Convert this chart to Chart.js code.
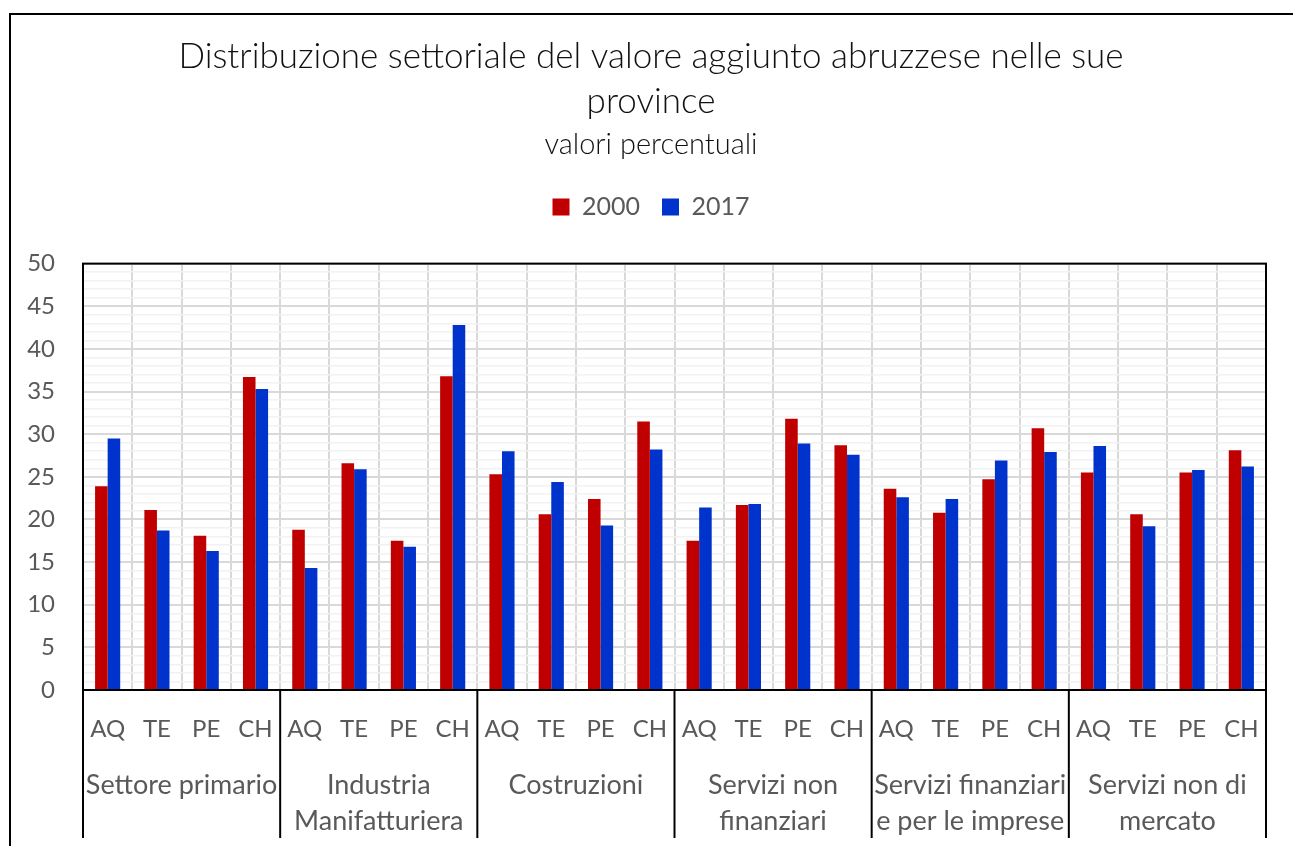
<!DOCTYPE html>
<html>
<head>
<meta charset="utf-8">
<script src="https://cdn.jsdelivr.net/npm/chart.js@4"></script>
<style>
  html, body { margin: 0; padding: 0; background: #fff; }
  #wrap { width: 1293px; height: 846px; }
</style>
</head>
<body>
<div id="wrap"><canvas id="sectorChart"></canvas></div>
<script>
const provinces = ['AQ', 'TE', 'PE', 'CH'];
const sectors = [
    ['Settore primario'],
    ['Industria', 'Manifatturiera'],
    ['Costruzioni'],
    ['Servizi non', 'finanziari'],
    ['Servizi finanziari', 'e per le imprese'],
    ['Servizi non di', 'mercato']
];
const values2000 = [23.9, 21.1, 18.1, 36.7, 18.8, 26.6, 17.5, 36.8, 25.3, 20.6, 22.4, 31.5,
                    17.5, 21.7, 31.8, 28.7, 23.6, 20.8, 24.7, 30.7, 25.5, 20.6, 25.5, 28.1];
const values2017 = [29.5, 18.7, 16.3, 35.3, 14.3, 25.9, 16.8, 42.8, 28.0, 24.4, 19.3, 28.2,
                    21.4, 21.8, 28.9, 27.6, 22.6, 22.4, 26.9, 27.9, 28.6, 19.2, 25.8, 26.2];

const labels = sectors.flatMap(() => provinces);
const FONT = 'Lato, "Open Sans", sans-serif';
const GREY = '#595959';

// cornice esterna + bordo area del grafico
const framePlugin = {
    id: 'frame',
    beforeDraw(chart) {
        const c = chart.ctx;
        c.save();
        c.strokeStyle = '#000';
        c.lineWidth = 2;
        c.beginPath();
        c.moveTo(10, chart.height);
        c.lineTo(10, 14);
        c.lineTo(chart.width, 14);
        c.stroke();
        c.restore();
    },
    afterDatasetsDraw(chart) {
        const a = chart.chartArea;
        const c = chart.ctx;
        c.save();
        c.strokeStyle = '#000';
        c.lineWidth = 2;
        c.strokeRect(a.left, a.top, a.right - a.left, a.bottom - a.top);
        c.restore();
    }
};

// separatori e nomi dei settori sotto l'asse
const groupPlugin = {
    id: 'groups',
    afterDraw(chart) {
        const x = chart.scales.x;
        const a = chart.chartArea;
        const c = chart.ctx;
        const n = provinces.length;
        c.save();
        c.strokeStyle = '#000';
        c.lineWidth = 2;
        c.fillStyle = GREY;
        c.font = '27px ' + FONT;
        c.textAlign = 'center';
        c.textBaseline = 'middle';
        sectors.forEach((name, g) => {
            const first = g * n, last = first + n - 1;
            const half = (x.getPixelForValue(1) - x.getPixelForValue(0)) / 2;
            const left = x.getPixelForValue(first) - half;
            const right = x.getPixelForValue(last) + half;
            c.beginPath();
            c.moveTo(left, a.bottom);
            c.lineTo(left, 838);
            if (g === sectors.length - 1) {
                c.moveTo(right, a.bottom);
                c.lineTo(right, 838);
            }
            c.stroke();
            name.forEach((line, i) => {
                c.fillText(line, (left + right) / 2, 785 + i * 36);
            });
        });
        c.restore();
    }
};

new Chart(document.getElementById('sectorChart'), {
    type: 'bar',
    data: {
        labels: labels,
        datasets: [
            { label: '2000', data: values2000, backgroundColor: '#C00000' },
            { label: '2017', data: values2017, backgroundColor: '#0033CC' }
        ]
    },
    options: {
        responsive: true,
        maintainAspectRatio: false,
        animation: false,
        categoryPercentage: 0.51,
        barPercentage: 1.0,
        layout: { padding: { top: 14, left: 9, right: 0, bottom: 0 } },
        plugins: {
            title: {
                display: true,
                text: ['Distribuzione settoriale del valore aggiunto abruzzese nelle sue', 'province'],
                color: '#111',
                font: { family: FONT, size: 35, weight: '300', lineHeight: 1.286 },
                padding: { top: 20, bottom: 0 }
            },
            subtitle: {
                display: true,
                text: 'valori percentuali',
                color: '#111',
                font: { family: FONT, size: 29, weight: '300', lineHeight: 1.4 },
                padding: { top: 0, bottom: 8 }
            },
            legend: {
                labels: {
                    color: GREY,
                    font: { family: FONT, size: 25 },
                    boxWidth: 17,
                    boxHeight: 17,
                    padding: 22
                }
            },
            tooltip: { enabled: false }
        },
        scales: {
            x: {
                grid: { color: '#d9d9d9', lineWidth: 2, drawTicks: false, offset: true },
                border: { color: '#000', width: 2 },
                ticks: { color: GREY, font: { family: FONT, size: 24 }, padding: 25, autoSkip: false, maxRotation: 0 },
                afterFit(s) { s.height = 156; }
            },
            y: {
                min: 0,
                max: 50,
                grid: {
                    drawTicks: false,
                    color: c => (c.tick && c.tick.value % 5 === 0) ? '#d9d9d9' : '#f2f2f2',
                    lineWidth: c => (c.tick && c.tick.value % 5 === 0) ? 2 : 1.5
                },
                border: { color: '#000', width: 2 },
                ticks: {
                    stepSize: 1,
                    autoSkip: false,
                    color: GREY,
                    font: { family: FONT, size: 24 },
                    padding: 28,
                    callback: v => v % 5 === 0 ? v : ''
                },
                afterFit(s) { s.width = 74; }
            },
            gap: {
                type: 'category',
                position: 'top',
                labels: [''],
                grid: { display: false },
                border: { display: false },
                ticks: { display: false },
                afterFit(s) { s.height = 34; }
            },
            padR: {
                type: 'linear',
                position: 'right',
                grid: { display: false },
                border: { display: false },
                ticks: { display: false },
                afterFit(s) { s.width = 27; }
            }
        }
    },
    plugins: [framePlugin, groupPlugin]
});
</script>
</body>
</html>
